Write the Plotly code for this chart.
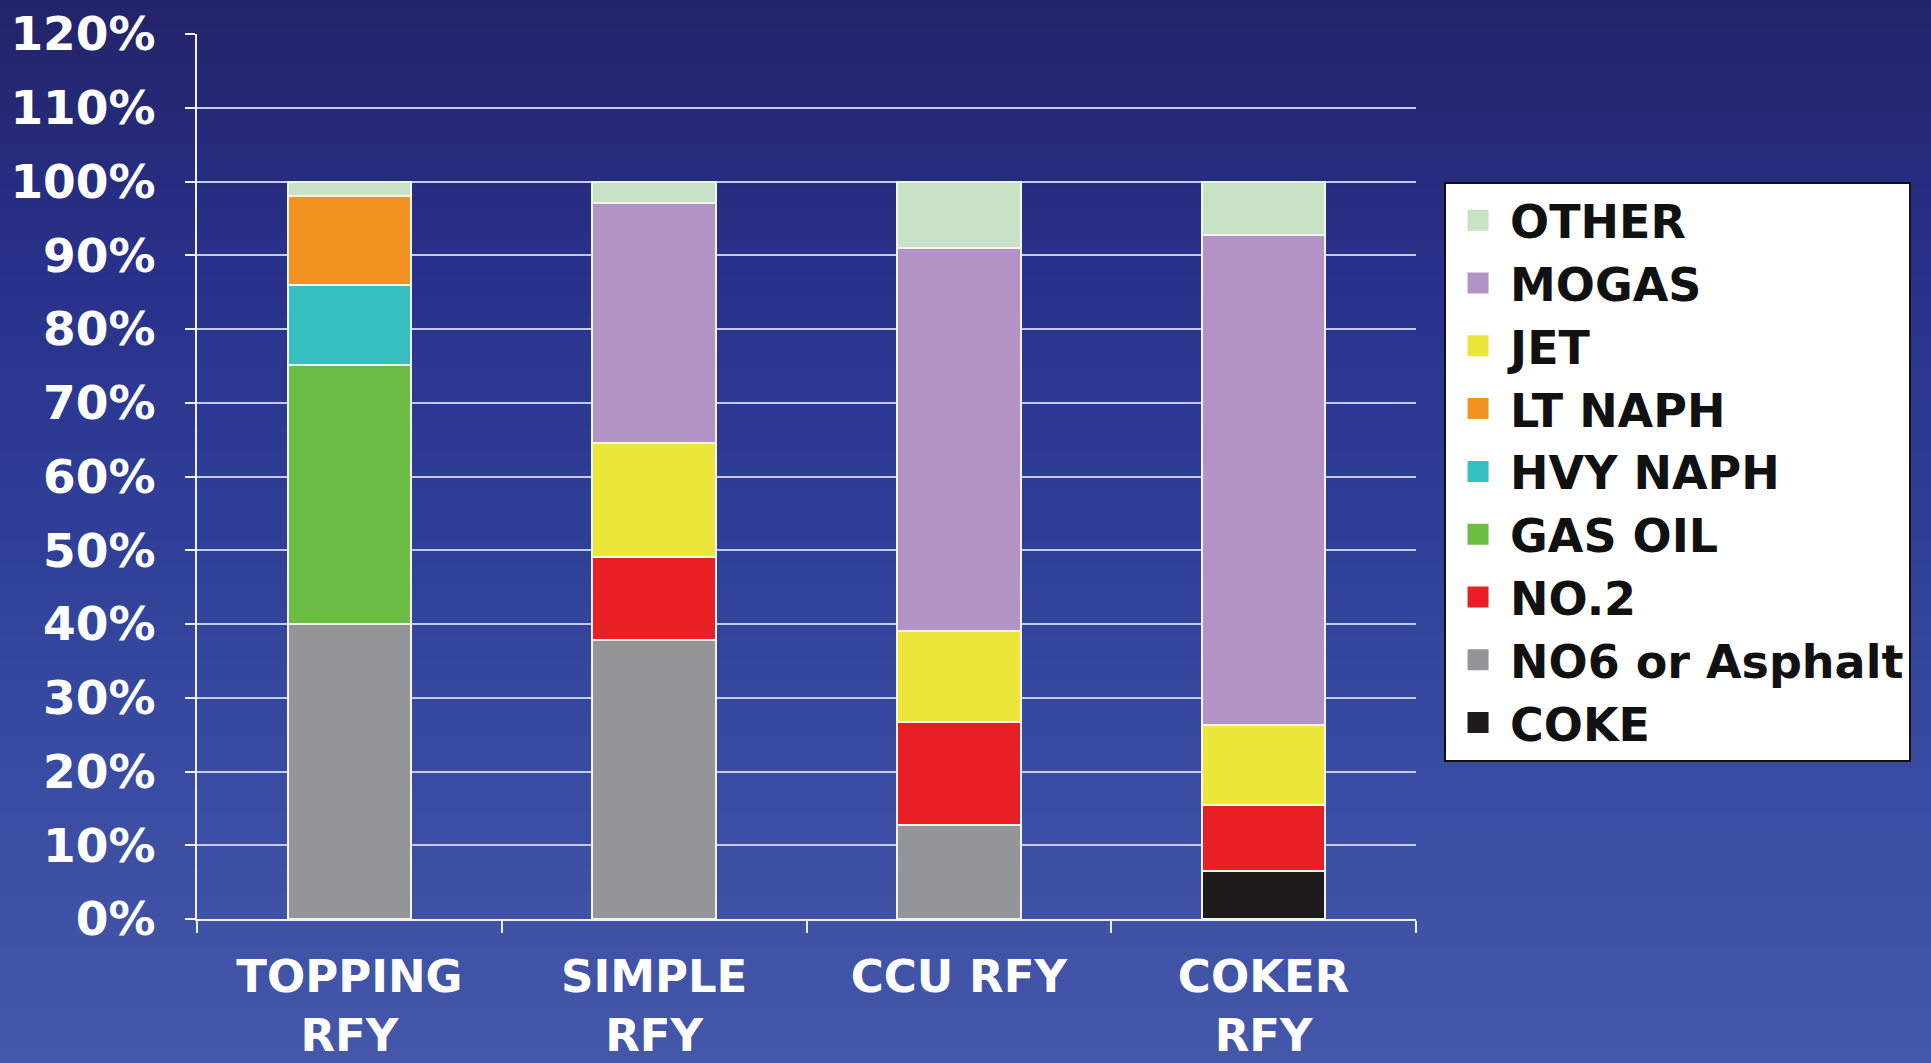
import base64, struct, zlib
import plotly.graph_objects as go

categories = ["TOPPING<br>RFY", "SIMPLE<br>RFY", "CCU RFY", "COKER<br>RFY"]

# series values in percent, bottom of stack first
coke = [0, 0, 0, 6.5]
no6_asphalt = [40.0, 37.8, 12.8, 0]
no2 = [0, 11.3, 13.9, 9.0]
gas_oil = [35.1, 0, 0, 0]
hvy_naph = [10.8, 0, 0, 0]
lt_naph = [12.2, 0, 0, 0]
jet = [0, 15.4, 12.3, 10.8]
mogas = [0, 32.6, 52.0, 66.4]
other = [1.9, 2.9, 9.0, 7.3]

series_names = ["COKE", "NO6 or Asphalt", "NO.2", "GAS OIL", "HVY NAPH",
                "LT NAPH", "JET", "MOGAS", "OTHER"]
series_values = [coke, no6_asphalt, no2, gas_oil, hvy_naph, lt_naph, jet, mogas, other]
series_colors = ["#1e1b1c", "#939598", "#e81f24", "#6dbd45", "#36bfc1",
                 "#f39321", "#ede63a", "#b293c6", "#c7e2c5"]

y_ticks = list(range(0, 121, 10))
y_tick_text = [f"{v}%" for v in y_ticks]


def gradient_png(stops, h=256):
    rows = b""
    for i in range(h):
        t = i / (h - 1)
        for j in range(len(stops) - 1):
            p0, c0 = stops[j]
            p1, c1 = stops[j + 1]
            if p0 <= t <= p1:
                f = (t - p0) / (p1 - p0) if p1 > p0 else 0
                c = [round(c0[k] + (c1[k] - c0[k]) * f) for k in range(3)]
                break
        rows += b"\x00" + bytes(c) * 2
    def chunk(tag, data):
        return struct.pack(">I", len(data)) + tag + data + struct.pack(">I", zlib.crc32(tag + data) & 0xffffffff)
    png = b"\x89PNG\r\n\x1a\n"
    png += chunk(b"IHDR", struct.pack(">IIBBBBB", 2, h, 8, 2, 0, 0, 0))
    png += chunk(b"IDAT", zlib.compress(rows, 9))
    png += chunk(b"IEND", b"")
    return "data:image/png;base64," + base64.b64encode(png).decode()


bg = gradient_png([
    (0.0, (35, 35, 104)),
    (0.25, (40, 49, 138)),
    (0.5, (47, 63, 152)),
    (0.75, (58, 77, 162)),
    (1.0, (68, 87, 169)),
])

W, H = 1931, 1063
ML, MR, MT, MB = 197, 515, 34, 144
PW, PH = W - ML - MR, H - MT - MB

fig = go.Figure()
for name, vals, col in zip(series_names, series_values, series_colors):
    fig.add_trace(go.Bar(
        x=categories, y=vals, name=name, legendgroup=name, showlegend=False,
        marker=dict(color=col, line=dict(color="#f4f4ea", width=2)),
    ))
# legend swatches (larger square keys)
for name, col in zip(series_names, series_colors):
    fig.add_trace(go.Scatter(
        x=[None], y=[None], mode="markers", name=name, legendgroup=name,
        marker=dict(symbol="square", size=16, color=col, line=dict(color=col, width=5)),
        hoverinfo="skip",
    ))

FONT = "DejaVu Sans, Verdana, sans-serif"

fig.update_layout(
    width=W, height=H,
    barmode="stack", bargap=0.595,
    paper_bgcolor="#2c3a92", plot_bgcolor="rgba(0,0,0,0)",
    margin=dict(l=ML, r=MR, t=MT, b=MB, autoexpand=False),
    font=dict(family=FONT, color="white", size=46, weight="bold"),
    images=[dict(source=bg, xref="paper", yref="paper",
                 x=-(ML + 5) / PW, y=1 + (MT + 5) / PH,
                 sizex=(W + 10) / PW, sizey=(H + 10) / PH,
                 xanchor="left", yanchor="top",
                 sizing="stretch", layer="below")],
    legend=dict(
        x=1.023, y=0.833, xanchor="left", yanchor="top",
        bgcolor="white", bordercolor="#111111", borderwidth=2,
        traceorder="reversed", itemwidth=54,
        font=dict(family=FONT, color="#111111", size=46, weight="bold"),
        tracegroupgap=0,
    ),
    xaxis=dict(
        showgrid=False, showline=True, linecolor="#eef0fb", linewidth=2,
        ticks="outside", tickson="boundaries", ticklen=12, tickwidth=2,
        tickcolor="#eef0fb", ticklabelstandoff=17, automargin=False,
        tickfont=dict(family=FONT, color="white", size=45, weight="bold"),
    ),
    yaxis=dict(
        range=[0, 120], tickvals=y_ticks, ticktext=y_tick_text,
        showgrid=True, gridcolor="#c6caf0", gridwidth=1.5,
        showline=True, linecolor="#eef0fb", linewidth=2,
        ticks="outside", ticklen=10, tickwidth=2, tickcolor="#eef0fb",
        ticklabelstandoff=20, zeroline=False, automargin=False,
        tickfont=dict(family=FONT, color="white", size=47, weight="bold"),
    ),
)

fig.write_html("out.html")
